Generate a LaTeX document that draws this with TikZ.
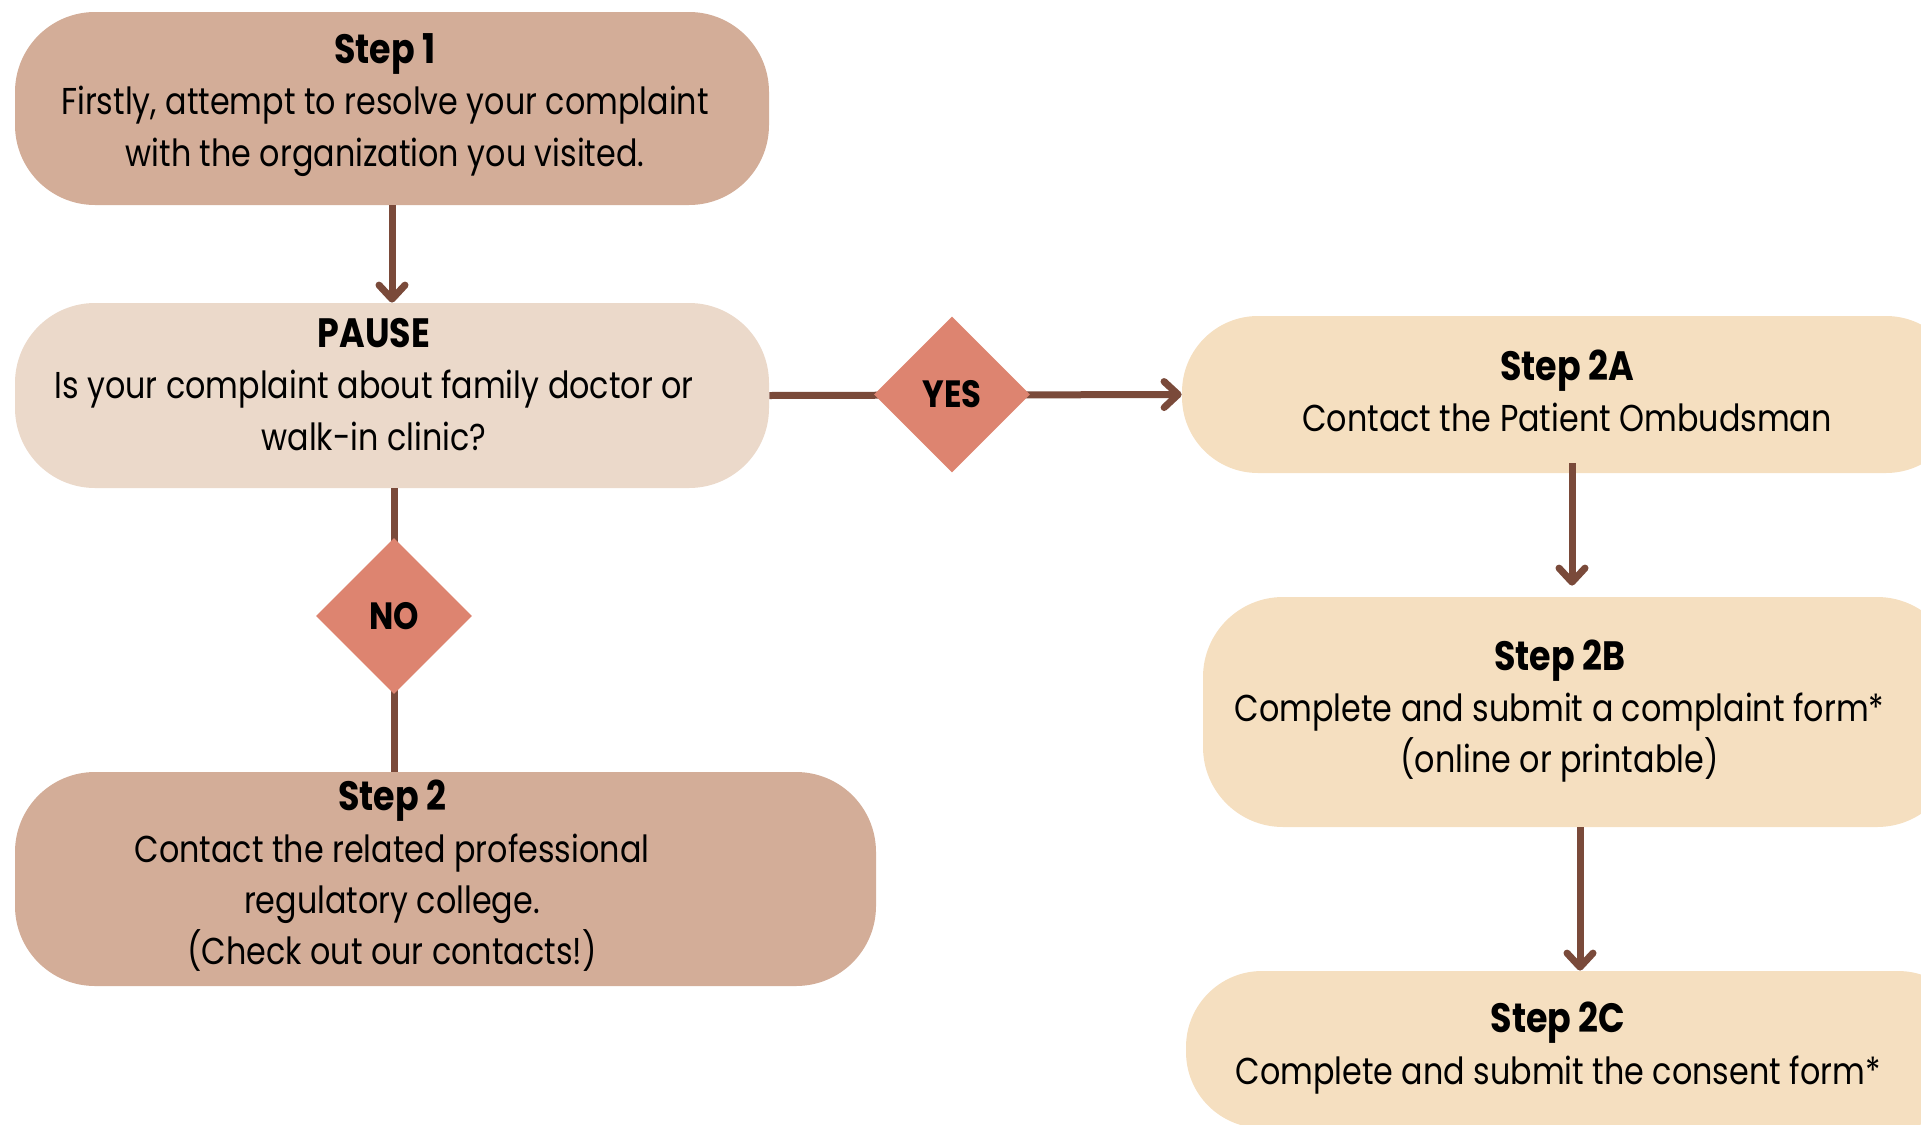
\documentclass[tikz,border=0pt]{standalone}
\usepackage{fontspec}
\setmainfont{Poppins}[FakeStretch=0.85]
\usetikzlibrary{shapes.geometric,arrows.meta}
\definecolor{cTan}{HTML}{D3AD98}
\definecolor{cPause}{HTML}{EBD9CA}
\definecolor{cCream}{HTML}{F5DFC0}
\definecolor{cDiam}{HTML}{DD8470}
\definecolor{cLine}{HTML}{7A4A3A}
\newcommand{\hd}[1]{{\bfseries\fontsize{20.5}{25.65}\selectfont #1}}
\begin{document}
\begin{tikzpicture}[x=0.5pt,y=-0.5pt,
  box/.style={rounded corners=40pt, inner sep=0pt, draw=none},
  txt/.style={align=center, inner sep=0pt, font=\fontsize{18.7}{25.65}\selectfont},
  dia/.style={diamond, fill=cDiam, inner sep=0pt, minimum width=78pt, minimum height=78pt, font=\bfseries\fontsize{19}{19}\selectfont},
  link/.style={draw=cLine, line width=3.5pt},
  arr/.style={link, -{Straight Barb[length=7pt,width=13pt,round]}}]
\useasboundingbox (0,0) rectangle (1921,1124);
\clip (0,0) rectangle (1921,1124);
% boxes
\node[box, fill=cTan, minimum width=377pt, minimum height=96.5pt] (s1) at (392,108.5) {};
\node[box, fill=cPause, minimum width=377pt, minimum height=92.5pt] (pause) at (392,395.5) {};
\node[box, fill=cTan, minimum width=430.5pt, minimum height=107pt] (s2) at (445.5,879) {};
\node[box, rounded corners=38pt, fill=cCream, minimum width=390pt, minimum height=78.5pt] (s2a) at (1572,394.5) {};
\node[box, fill=cCream, minimum width=377pt, minimum height=115pt] (s2b) at (1580,712) {};
\node[box, rounded corners=38pt, fill=cCream, minimum width=394pt, minimum height=78.5pt] (s2c) at (1580,1049.5) {};
% connectors
\draw[arr] (s1.south) -- (pause.north);
\draw[arr] (pause.east) -- (s2a.west);
\draw[link] ([xshift=1pt]pause.south) -- ([xshift=1pt]pause.south |- s2.north);
\draw[arr] ([yshift=5pt]s2a.south) -- ([yshift=5.5pt]s2a.south |- s2b.north);
\draw[arr] (s2b.south) -- (s2c.north);
% decisions
\node[dia] (yes) at (952,394.5) {YES};
\node[dia] (no) at (394,616) {NO};
% texts
\node[txt] (t1) at (385,105) {\hd{Step 1}\\Firstly, attempt to resolve your complaint\\with the organization you visited.};
\node[txt] (tp) at (374,384.5) {\hd{PAUSE}\\Is your complaint about family doctor or\\walk-in clinic?};
\node[txt] (t2) at (392,876) {\hd{Step 2}\\Contact the related professional\\regulatory college.\\(Check out our contacts!)};
\node[txt] (t2a) at (1567,391) {\hd{Step 2A}\\Contact the Patient Ombudsman};
\node[txt] (t2b) at (1559.5,711) {\hd{Step 2B}\\Complete and submit a complaint form*\\(online or printable)};
\node[txt] (t2c) at (1558,1048) {\hd{Step 2C}\\Complete and submit the consent form*};
\end{tikzpicture}
\end{document}
